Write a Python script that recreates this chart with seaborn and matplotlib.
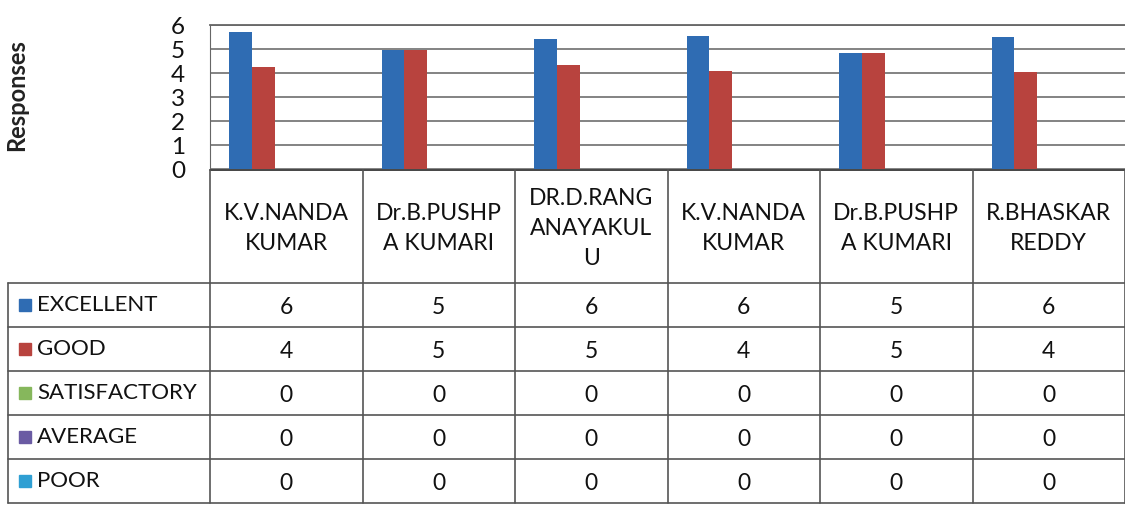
import numpy as np
import pandas as pd
import matplotlib
matplotlib.use("Agg")
import matplotlib.pyplot as plt
import seaborn as sns

# header labels of the data table (wrapped as in the original)
teachers = ["K.V.NANDA\nKUMAR", "Dr.B.PUSHP\nA KUMARI", "DR.D.RANG\nANAYAKUL\nU",
            "K.V.NANDA\nKUMAR", "Dr.B.PUSHP\nA KUMARI", "R.BHASKAR\nREDDY"]
ratings = ["EXCELLENT", "GOOD", "SATISFACTORY", "AVERAGE", "POOR"]

# bar heights as drawn
excellent_bar = [5.7, 4.95, 5.4, 5.55, 4.85, 5.5]
good_bar = [4.25, 4.95, 4.35, 4.1, 4.85, 4.05]
satisfactory_bar = [0, 0, 0, 0, 0, 0]
average_bar = [0, 0, 0, 0, 0, 0]
poor_bar = [0, 0, 0, 0, 0, 0]

# values printed in the data table
excellent_tab = [6, 5, 6, 6, 5, 6]
good_tab = [4, 5, 5, 4, 5, 4]
satisfactory_tab = [0, 0, 0, 0, 0, 0]
average_tab = [0, 0, 0, 0, 0, 0]
poor_tab = [0, 0, 0, 0, 0, 0]

colors = ["#2f6cb3", "#b8433e", "#86b75c", "#6a5ba3", "#2f9fd3"]

sns.set_style("white")
plt.rcParams["font.family"] = ["Lato", "DejaVu Sans"]

W, H = 1125, 505
fig = plt.figure(figsize=(W / 100, H / 100), dpi=100)

# ---- bar chart ----
plot_left, plot_bottom, plot_top = 210, 169, 25
col_w = 152.5
ax = fig.add_axes([plot_left / W, 1 - plot_bottom / H,
                   6 * col_w / W + 0.01, (plot_bottom - plot_top) / H])

bar_series = [excellent_bar, good_bar, satisfactory_bar, average_bar, poor_bar]
rows = []
for name, vals in zip(ratings, bar_series):
    for i, v in enumerate(vals):
        rows.append({"col": str(i), "rating": name, "value": v})
df = pd.DataFrame(rows)

sns.barplot(data=df, x="col", y="value", hue="rating", hue_order=ratings,
            order=[str(i) for i in range(6)], palette=colors, width=0.75,
            gap=0, saturation=1, legend=False, ax=ax, linewidth=0)

ax.set_xlim(-0.5, 5.5 + 0.01 * W / col_w)
ax.set_ylim(0, 6)
ax.set_yticks(range(7))
ax.set_yticklabels([str(v) for v in range(7)], fontsize=17.5, color="#111111")
ax.tick_params(axis="y", length=4, pad=14, color="#666666")
ax.set_xticks([])
ax.set_xlabel("")
ax.set_ylabel("")
ax.grid(axis="y", color="#7a7a7a", linewidth=1.3)
ax.set_axisbelow(True)
for s in ["right", "bottom"]:
    ax.spines[s].set_visible(False)
ax.spines["left"].set_color("#666666")
ax.spines["top"].set_color("#666666")
ax.spines["top"].set_linewidth(1.3)

fig.text(17 / W, 1 - 95 / H, "Responses", rotation=90, ha="center", va="center",
         fontsize=17, fontweight="bold", color="#222222")

# ---- data table ----
tab = fig.add_axes([0, 0, 1, 1])
tab.set_xlim(0, W)
tab.set_ylim(H, 0)
tab.axis("off")

line_kw = dict(color="#555555", linewidth=1.2)
header_top, header_bottom = 170, 283
row_h = 44
table_bottom = header_bottom + row_h * len(ratings)
label_left = 8

# horizontal lines
tab.plot([plot_left, W], [header_top, header_top], color="#444444", linewidth=1.4)
for r in range(len(ratings) + 1):
    y = header_bottom + r * row_h
    tab.plot([label_left, W], [y, y], **line_kw)
# vertical lines
tab.plot([label_left, label_left], [header_bottom, table_bottom], **line_kw)
for c in range(7):
    x = plot_left + c * col_w
    tab.plot([x, x], [header_top, table_bottom], **line_kw)

# header text
for c, name in enumerate(teachers):
    xc = plot_left + (c + 0.5) * col_w
    tab.text(xc, (header_top + header_bottom) / 2 + 2, name, ha="center", va="center",
             fontsize=16.5, linespacing=1.55, color="#111111")

# rows: legend key, label, values
tab_series = [excellent_tab, good_tab, satisfactory_tab, average_tab, poor_tab]
for r, (name, vals, col) in enumerate(zip(ratings, tab_series, colors)):
    yc = header_bottom + (r + 0.5) * row_h
    tab.add_patch(plt.Rectangle((19, yc - 6), 12, 12, color=col))
    tab.text(37, yc, name, ha="left", va="center", fontsize=16, color="#111111")
    for c, v in enumerate(vals):
        xc = plot_left + (c + 0.5) * col_w
        tab.text(xc, yc + 3, str(v), ha="center", va="center", fontsize=16.5,
                 color="#111111")

fig.savefig("out.png", dpi=100)
